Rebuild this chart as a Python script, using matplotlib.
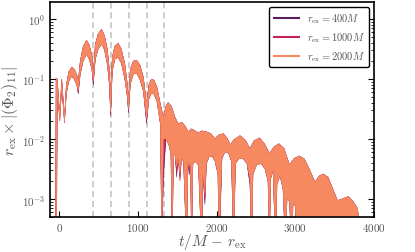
import numpy as np
import matplotlib
matplotlib.use('Agg')
import matplotlib.pyplot as plt

plt.rcParams.update({
    'font.family': 'serif',
    'font.serif': ['cmr10'],
    'mathtext.fontset': 'cm',
    'axes.formatter.use_mathtext': True,
    'axes.unicode_minus': False,
    'text.color': '#555555',
    'axes.labelcolor': '#555555',
    'xtick.labelcolor': '#555555',
    'ytick.labelcolor': '#555555',
})

B = 1.5e-4  # below the axis floor

# upper envelope of the (fast oscillating) signal, shared by all extraction radii
t_up = [-44, -38, -23, 9, 34, 69, 92, 123, 161, 193, 225, 244, 269, 305, 348, 384, 416, 435,
        460, 496, 539, 575, 613, 638, 655, 676, 708, 750, 791, 835, 867, 881, 905, 943, 984,
        1026, 1070, 1111, 1140, 1172, 1204, 1242, 1286, 1324, 1356, 1385, 1426, 1471, 1512,
        1556, 1598, 1640, 1683, 1725, 1767, 1814, 1873, 1928, 1979, 2030, 2084, 2131, 2176,
        2220, 2297, 2360, 2424, 2475, 2545, 2608, 2672, 2729, 2792, 2856, 2926, 2983, 3047,
        3110, 3174, 3250, 3301, 3355, 3415, 3472, 3536, 3593, 3673, 3733, 3790, 3843]
up = [B, 0.103, 0.099, 0.025, 0.099, 0.023, 0.079, 0.130, 0.157, 0.145, 0.116, 0.092, 0.197,
      0.337, 0.44, 0.364, 0.248, 0.12, 0.378, 0.553, 0.67, 0.53, 0.312, 0.145, 0.056, 0.23,
      0.35, 0.39, 0.312, 0.176, 0.082, 0.046, 0.145, 0.197, 0.205, 0.17, 0.107, 0.038, 0.079,
      0.099, 0.095, 0.073, 0.038, 0.023, 0.035, 0.040, 0.035, 0.023, 0.0178, 0.019, 0.0165,
      0.0131, 0.0147, 0.0136, 0.0126, 0.0136, 0.0131, 0.0122, 0.0100, 0.0117, 0.0122, 0.0104,
      0.0080, 0.0097, 0.0113, 0.0097, 0.0069, 0.0093, 0.0104, 0.0083, 0.0057, 0.0074, 0.0083,
      0.0069, 0.0037, 0.0047, 0.0052, 0.0047, 0.0032, 0.0019, 0.0024, 0.0026, 0.0023, 0.0015,
      0.00094, 0.0010, 0.0011, 0.00091, 0.00069, B]

# lower envelope (minima of the oscillation)
t_lo = [-44, -32, -22, 9, 34, 69, 92, 123, 161, 193, 225, 244, 269, 305, 348, 384, 416, 435,
        460, 496, 539, 575, 613, 638, 655, 676, 708, 750, 791, 835, 867, 881, 905, 943, 984,
        1026, 1070, 1111, 1140, 1172, 1204, 1242, 1286, 1305, 1324, 1356, 1394, 1420, 1436,
        1453, 1475, 1493, 1512, 1535, 1554, 1580, 1619, 1636, 1652, 1668, 1683, 1699, 1731,
        1769, 1810, 1826, 1852, 1871, 1903, 1941, 1979, 2017, 2034, 2049, 2068, 2106, 2150,
        2188, 2218, 2239, 2284, 2335, 2386, 2424, 2443, 2462, 2507, 2564, 2614, 2653, 2669,
        2688, 2717, 2748, 2767, 2805, 2843, 2875, 2894, 2926, 2952, 2971, 2997, 3020, 3843]
lo_2000 = [B, B, 0.068, 0.020, 0.073, 0.0185, 0.056, 0.092, 0.111, 0.099, 0.079, 0.063, 0.120,
           0.197, 0.258, 0.213, 0.145, 0.092, 0.213, 0.312, 0.378, 0.312, 0.176, 0.082, 0.028,
           0.135, 0.213, 0.23, 0.183, 0.099, 0.050, 0.0316, 0.082, 0.120, 0.125, 0.099, 0.063,
           0.0216, 0.046, 0.058, 0.056, 0.043, 0.0178, B, 0.0100, 0.0100, 0.0080, 0.0057, B,
           0.0054, 0.0052, 0.0034, 0.0050, 0.0026, 0.0047, 0.0043, B, 0.0043, 0.0034, 0.0040, B,
           0.0039, 0.0042, 0.0037, B, 0.0026, 0.0012, 0.0039, 0.0050, 0.0052, 0.0043, 0.0026, B,
           0.0010, 0.0047, 0.0061, 0.0059, 0.0043, B, 0.0039, 0.0047, 0.0047, 0.0039, 0.0022, B,
           0.0026, 0.0037, 0.0039, 0.0032, 0.0020, B, 0.0022, 0.0030, B, 0.0018, 0.0024, 0.0015,
           B, 0.0010, 0.00091, B, 0.00084, 0.00078, B, B]
lo_1000 = [B, B, 0.068, 0.020, 0.073, 0.0185, 0.056, 0.092, 0.111, 0.099, 0.079, 0.060, 0.120,
           0.197, 0.258, 0.213, 0.145, 0.085, 0.213, 0.312, 0.378, 0.312, 0.176, 0.082, 0.026,
           0.135, 0.213, 0.23, 0.183, 0.099, 0.050, 0.029, 0.082, 0.120, 0.125, 0.099, 0.063,
           0.020, 0.046, 0.058, 0.056, 0.043, 0.0178, B, 0.0030, 0.0100, 0.0080, 0.0057, B,
           0.0054, 0.0052, 0.0027, 0.0050, 0.0020, 0.0047, 0.0043, B, 0.0043, 0.0030, 0.0040, B,
           0.0039, 0.0042, 0.0037, B, 0.0026, 0.0010, 0.0039, 0.0050, 0.0052, 0.0043, 0.0026, B,
           0.00081, 0.0047, 0.0061, 0.0059, 0.0043, B, 0.0039, 0.0047, 0.0047, 0.0039, 0.0019, B,
           0.0026, 0.0037, 0.0039, 0.0032, 0.0020, B, 0.0022, 0.0030, B, 0.0018, 0.0024, 0.0015,
           B, 0.0010, 0.00091, B, 0.00084, 0.00078, B, B]
lo_400 = [B, B, 0.068, 0.020, 0.073, 0.0185, 0.056, 0.092, 0.111, 0.099, 0.079, 0.056, 0.120,
          0.197, 0.258, 0.213, 0.145, 0.079, 0.213, 0.312, 0.378, 0.312, 0.176, 0.082, 0.024,
          0.135, 0.213, 0.23, 0.183, 0.099, 0.050, 0.027, 0.082, 0.120, 0.125, 0.099, 0.063,
          0.018, 0.046, 0.058, 0.056, 0.043, 0.0178, B, 0.0020, 0.0100, 0.0080, 0.0057, B,
          0.0054, 0.0052, 0.0023, 0.0050, 0.0023, 0.0047, 0.0043, B, 0.0043, 0.0025, 0.0040, B,
          0.0039, 0.0042, 0.0037, B, 0.0026, 0.00081, 0.0039, 0.0050, 0.0052, 0.0043, 0.0026, B,
          0.00064, 0.0047, 0.0061, 0.0059, 0.0043, B, 0.0039, 0.0047, 0.0047, 0.0039, 0.0017, B,
          0.0026, 0.0037, 0.0039, 0.0032, 0.0020, B, 0.0022, 0.0030, B, 0.0018, 0.0024, 0.0015,
          B, 0.0010, 0.00091, B, 0.00084, 0.00078, B, B]

radii = [400, 1000, 2000]
colors = ['#5a1c5c', '#c5215b', '#f6895f']
t_marks = [437, 661, 886, 1111, 1331]

fig = plt.figure(figsize=(4.15, 2.53), dpi=100)
ax = fig.add_axes([0.1205, 0.138, 0.781, 0.85])

for tm in t_marks:
    ax.axvline(tm, color='#c0c0c0', ls=(0, (4, 2.5)), lw=1.1, zorder=0)

for r, lo, c in zip(radii, [lo_400, lo_1000, lo_2000], colors):
    ax.fill(np.r_[t_up, t_lo[::-1]], np.r_[up, lo[::-1]], color=c, lw=0.3, zorder=2)
    ax.plot([], [], color=c, lw=1.5, label=r'$r_{\rm ex} = %dM$' % r)

ax.set_yscale('log')
ax.set_xlim(-115, 4000)
ax.set_ylim(5e-4, 1.9)
ax.set_xticks([0, 1000, 2000, 3000, 4000])
ax.tick_params(which='both', direction='in', right=True, top=False, labelsize=8,
               colors='k', labelcolor='#555555')
ax.tick_params(axis='x', pad=2.5)
ax.tick_params(which='major', length=4, width=0.8)
ax.tick_params(which='minor', length=2, width=0.6)
for s in ax.spines.values():
    s.set_linewidth(1.2)

ax.set_xlabel(r'$t/M\,-\,r_{\rm ex}$', fontsize=11, labelpad=-1)
ax.set_ylabel(r'$r_{\rm ex}\times|(\Phi_2)_{11}|$', fontsize=11.5, labelpad=1)

leg = ax.legend(loc='upper right', fontsize=7.5, frameon=True, fancybox=True,
                edgecolor='k', framealpha=1, handlelength=2.4, borderaxespad=0.5)
leg.get_frame().set_linewidth(1.0)

fig.savefig('out.png', dpi=100)
